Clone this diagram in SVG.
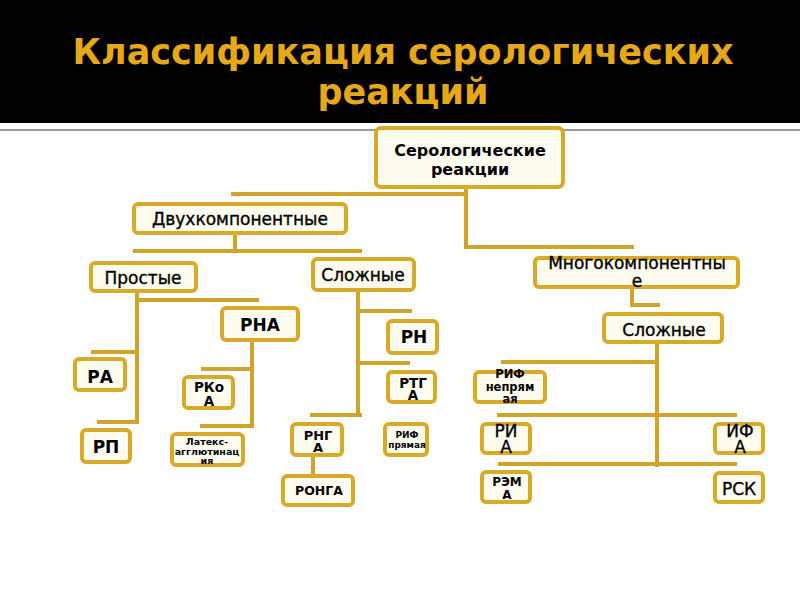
<svg xmlns="http://www.w3.org/2000/svg" width="800" height="600" viewBox="0 0 800 600">
<style>
.box{fill:#FFFDF0;stroke:#D8AA2A;stroke-width:4}
.ln{stroke:#CFA42A;stroke-width:4;fill:none;stroke-linecap:square}
text{font-family:"DejaVu Sans","Liberation Sans",sans-serif;fill:#000;text-anchor:middle}
.b{font-weight:bold}
.m{stroke:#000;stroke-width:0.35}
.title{fill:#E6A817;font-weight:bold;font-size:35px}
</style>
<rect x="0" y="0" width="800" height="600" fill="#FFFFFF"/>
<rect x="0" y="0" width="800" height="123" fill="#000000"/>
<line x1="0" y1="130" x2="800" y2="130" stroke="#777" stroke-width="1.5"/>
<g id="title">
<text class="title" x="403" y="64">Классификация серологических<tspan x="403" dy="40">реакций</tspan></text>
</g>
<g id="connectors">
<path class="ln" d="M466 188V247H632M466 194H233"/>
<path class="ln" d="M235 234V251M135 251H360"/>
<path class="ln" d="M137 292V422M93 352H137M99 422H137M137 300H257"/>
<path class="ln" d="M252 341V426M203 369H252M202 426H252"/>
<path class="ln" d="M358 291V415M358 311H410M358 363H408M312 415H360"/>
<path class="ln" d="M313 456V475"/>
<path class="ln" d="M632 288V305H658"/>
<path class="ln" d="M657 343V465M503 362H657M499 415H735M500 464H735"/>
</g>
<g id="root"><rect class="box" x="376" y="128" width="187" height="59" rx="5"/>
<text class="b" x="470" y="156" font-size="16">Серологические<tspan x="470" dy="19">реакции</tspan></text></g>
<g id="dvukh"><rect class="box" x="134" y="204" width="212" height="29" rx="4"/>
<text class="m" x="240" y="225" font-size="17">Двухкомпонентные</text></g>
<g id="prostye"><rect class="box" x="91" y="263" width="105" height="28" rx="4"/>
<text class="m" x="143" y="284" font-size="17">Простые</text></g>
<g id="slozhnye1"><rect class="box" x="313" y="259" width="101" height="31" rx="4"/>
<text class="m" x="363" y="281" font-size="17">Сложные</text></g>
<g id="rna"><rect class="box" x="222" y="308" width="76" height="32" rx="4"/>
<text class="b" x="260" y="331" font-size="17">РНА</text></g>
<g id="ra"><rect class="box" x="75" y="359" width="50" height="31" rx="4"/>
<text class="b" x="100" y="383" font-size="17">РА</text></g>
<g id="rp"><rect class="box" x="82" y="430" width="48" height="32" rx="4"/>
<text class="b" x="106" y="453" font-size="17">РП</text></g>
<g id="rkoa"><rect class="box" x="184" y="377" width="49" height="31" rx="4"/>
<text class="b" x="209" y="392" font-size="13.5">РКо<tspan x="209" dy="14">А</tspan></text></g>
<g id="lateks"><rect class="box" x="172" y="434" width="71" height="31" rx="4"/>
<text class="b" x="207" y="445" font-size="9.5">Латекс-<tspan x="207" dy="10">агглютинац</tspan><tspan x="207" dy="9">ия</tspan></text></g>
<g id="rn"><rect class="box" x="388" y="321" width="49" height="32" rx="4"/>
<text class="b" x="414" y="343" font-size="17">РН</text></g>
<g id="rtga"><rect class="box" x="388" y="372" width="47" height="30" rx="4"/>
<text class="b" x="413" y="388" font-size="13.5">РТГ<tspan x="413" dy="12">А</tspan></text></g>
<g id="rnga"><rect class="box" x="292" y="424" width="50" height="31" rx="4"/>
<text class="b" x="318" y="440" font-size="13">РНГ<tspan x="318" dy="12">А</tspan></text></g>
<g id="rif-pryamaya"><rect class="box" x="385" y="424" width="42" height="31" rx="4"/>
<text class="b" x="407" y="438" font-size="9">РИФ<tspan x="407" dy="10">прямая</tspan></text></g>
<g id="ronga"><rect class="box" x="283" y="476" width="70" height="29" rx="4"/>
<text class="b" x="319" y="495" font-size="12.5">РОНГА</text></g>
<g id="mnogo"><rect class="box" x="535" y="258" width="203" height="29" rx="4"/>
<text class="m" x="637" y="269" font-size="17">Многокомпонентны<tspan x="637" dy="18">е</tspan></text></g>
<g id="slozhnye2"><rect class="box" x="604" y="314" width="118" height="28" rx="4"/>
<text class="m" x="664" y="336" font-size="17">Сложные</text></g>
<g id="rif-nepryamaya"><rect class="box" x="475" y="372" width="70" height="30" rx="4"/>
<text class="b" x="510" y="378" font-size="11.5">РИФ<tspan x="510" dy="13">непрям</tspan><tspan x="510" dy="12">ая</tspan></text></g>
<g id="ria"><rect class="box" x="482" y="424" width="48" height="29" rx="4"/>
<text class="m" x="506" y="437" font-size="17">РИ<tspan x="506" dy="16">А</tspan></text></g>
<g id="ifa"><rect class="box" x="715" y="424" width="48" height="29" rx="4"/>
<text class="m" x="740" y="437" font-size="17">ИФ<tspan x="740" dy="16">А</tspan></text></g>
<g id="rema"><rect class="box" x="482" y="472" width="48" height="30" rx="4"/>
<text class="b" x="507" y="486" font-size="12">РЭМ<tspan x="507" dy="13">А</tspan></text></g>
<g id="rsk"><rect class="box" x="715" y="473" width="48" height="29" rx="4"/>
<text class="m" x="739" y="495" font-size="17">РСК</text></g>
</svg>
